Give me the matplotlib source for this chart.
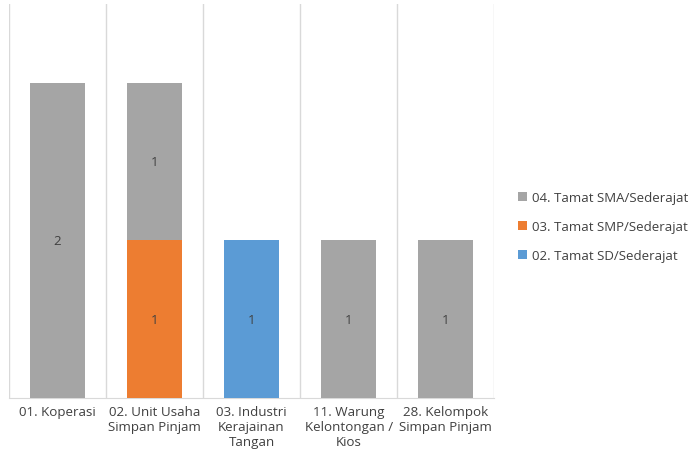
import matplotlib
matplotlib.use("Agg")
import matplotlib.pyplot as plt
import numpy as np

plt.rcParams['font.family'] = ['Open Sans', 'DejaVu Sans']

categories = ["01. Koperasi", "02. Unit Usaha\nSimpan Pinjam", "03. Industri\nKerajainan\nTangan",
              "11. Warung\nKelontongan /\nKios", "28. Kelompok\nSimpan Pinjam"]
series_names = ["02. Tamat SD/Sederajat", "03. Tamat SMP/Sederajat", "04. Tamat SMA/Sederajat"]
sd = [0, 0, 1, 0, 0]
smp = [0, 1, 0, 0, 0]
sma = [2, 1, 0, 1, 1]
colors = ["#5B9BD5", "#ED7D31", "#A5A5A5"]

fig = plt.figure(figsize=(6.93, 4.60), dpi=100)
ax = fig.add_axes([0.013, 0.1326, 0.70, 0.8565])

x = np.arange(len(categories))
bottom = np.zeros(len(categories))
handles = []
for name, vals, c in zip(series_names, [sd, smp, sma], colors):
    vals = np.array(vals, dtype=float)
    bars = ax.bar(x, vals, 0.56, bottom=bottom, color=c, label=name, zorder=3)
    handles.append(bars)
    for xi, v, b in zip(x, vals, bottom):
        if v > 0:
            ax.text(xi, b + v / 2, f"{int(v)}", ha="center", va="center",
                    fontsize=9.5, color="#404040", zorder=4)
    bottom += vals

ax.set_xlim(-0.5, len(categories) - 0.5)
ax.set_ylim(0, 2.5)
ax.set_yticks([])
ax.set_xticks(x)
ax.set_xticklabels(categories, fontsize=9.6, color="#404040", linespacing=1.2)
ax.tick_params(axis="x", length=0, pad=5)
for b in np.arange(-0.5, len(categories), 1.0):
    ax.axvline(b, color="#D9D9D9", lw=1, zorder=1)
for s in ["top", "left", "right"]:
    ax.spines[s].set_visible(False)
ax.spines["bottom"].set_color("#D9D9D9")

leg = fig.legend(handles[::-1], series_names[::-1], loc="center left",
                 bbox_to_anchor=(0.748, 0.505), frameon=False, fontsize=9.5,
                 borderpad=0, borderaxespad=0,
                 handlelength=0.65, handleheight=0.65, handletextpad=0.35,
                 labelspacing=1.2, labelcolor="#404040")

fig.savefig("out.png", dpi=100)
